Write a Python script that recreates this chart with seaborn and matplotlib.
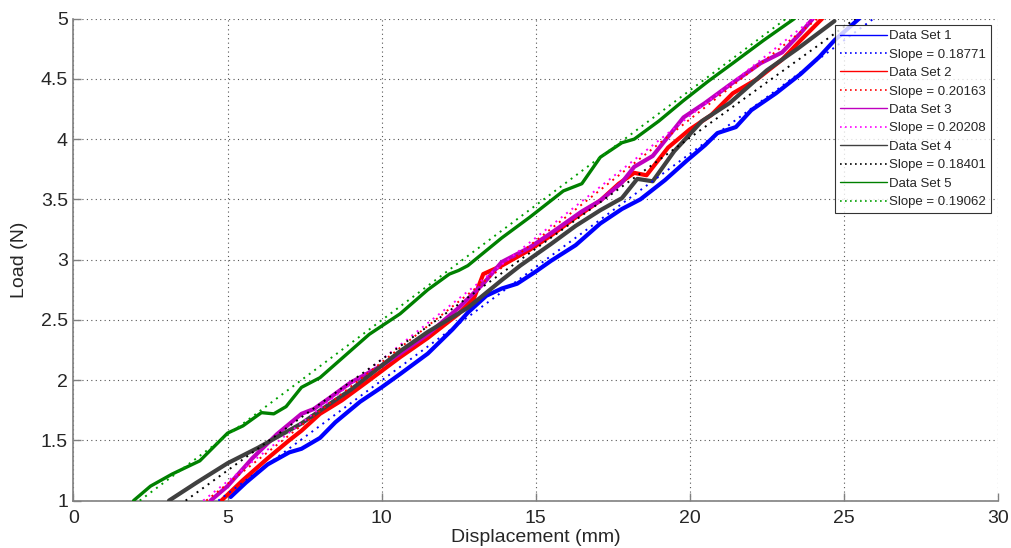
import numpy as np
import pandas as pd
import matplotlib
matplotlib.use('Agg')
import matplotlib.pyplot as plt
import seaborn as sns

# ── data ──────────────────────────────────────────────────────────────────
ds1_x = [5.1, 5.6, 6.3, 7.0, 7.4, 8.0, 8.5, 9.3, 10.0, 10.6, 11.5, 12.3, 12.8, 13.4, 13.9,
         14.4, 15.0, 15.5, 16.3, 17.1, 17.8, 18.4, 19.2, 19.9, 20.5, 20.9, 21.5, 22.0, 22.8,
         23.6, 24.2, 24.7, 25.5]
ds1_y = [1.03, 1.15, 1.30, 1.40, 1.43, 1.52, 1.65, 1.82, 1.94, 2.05, 2.22, 2.42, 2.56, 2.70, 2.76,
         2.80, 2.90, 2.99, 3.12, 3.30, 3.42, 3.50, 3.66, 3.82, 3.95, 4.05, 4.10, 4.24, 4.38,
         4.54, 4.68, 4.82, 5.0]

ds2_x = [4.8, 5.5, 6.3, 7.0, 7.4, 8.0, 8.7, 9.5, 10.6, 11.5, 12.5, 13.0, 13.3, 13.9, 14.8,
         15.5, 16.3, 17.1, 17.7, 18.2, 18.6, 19.3, 20.0, 20.7, 21.4, 22.2, 23.0, 23.6, 24.3]
ds2_y = [1.0, 1.17, 1.35, 1.50, 1.58, 1.72, 1.83, 1.98, 2.19, 2.35, 2.55, 2.68, 2.88, 2.95, 3.08,
         3.20, 3.35, 3.49, 3.63, 3.72, 3.70, 3.93, 4.08, 4.20, 4.38, 4.50, 4.66, 4.82, 5.0]

ds3_x = [4.45, 5.0, 5.8, 6.6, 7.4, 7.8, 8.3, 9.0, 10.0, 10.6, 11.5, 12.5, 13.3, 13.9, 14.8,
         15.5, 16.5, 17.1, 17.8, 18.2, 18.8, 19.8, 20.5, 21.3, 22.3, 23.0, 23.6, 24.0]
ds3_y = [1.0, 1.12, 1.35, 1.55, 1.72, 1.76, 1.85, 1.98, 2.12, 2.22, 2.38, 2.60, 2.80, 2.98, 3.10,
         3.22, 3.40, 3.49, 3.64, 3.77, 3.86, 4.18, 4.30, 4.45, 4.63, 4.72, 4.88, 5.0]

ds4_x = [3.1, 4.0, 5.0, 6.0, 7.4, 8.3, 9.0, 10.0, 10.6, 11.5, 12.8, 13.9, 14.5, 15.5, 16.3,
         17.1, 17.8, 18.3, 18.8, 19.5, 20.4, 21.3, 22.5, 23.5, 24.7]
ds4_y = [1.0, 1.15, 1.31, 1.44, 1.64, 1.80, 1.92, 2.12, 2.24, 2.40, 2.60, 2.83, 2.95, 3.13, 3.28,
         3.41, 3.51, 3.67, 3.65, 3.90, 4.15, 4.30, 4.57, 4.75, 4.98]

ds5_x = [1.95, 2.5, 3.2, 4.1, 5.0, 5.5, 6.1, 6.5, 6.9, 7.4, 8.0, 8.8, 9.6, 10.6, 11.5, 12.2,
         12.5, 12.8, 13.9, 14.8, 15.5, 15.9, 16.5, 17.1, 17.8, 18.2, 19.0, 19.8, 20.6, 21.4,
         22.4, 23.4]
ds5_y = [1.0, 1.12, 1.22, 1.33, 1.56, 1.62, 1.73, 1.72, 1.78, 1.94, 2.02, 2.20, 2.38, 2.55, 2.75,
         2.88, 2.91, 2.95, 3.18, 3.35, 3.49, 3.57, 3.63, 3.85, 3.97, 4.00, 4.15, 4.32, 4.48, 4.63,
         4.82, 5.0]

# linear fits: end points of each dotted line
fit_x = [[4.7, 25.97], [4.31, 24.15], [4.21, 24.0], [3.64, 25.38], [2.15, 23.13]]
fit_y = [[1.0, 5.0], [1.0, 5.0], [1.0, 5.0], [1.0, 5.0], [1.0, 5.0]]
slopes = [0.18771, 0.20163, 0.20208, 0.18401, 0.19062]

set_names = ["Data Set 1", "Data Set 2", "Data Set 3", "Data Set 4", "Data Set 5"]
data_colors = ["#0000ff", "#ff0000", "#bf00bf", "#404040", "#008000"]
fit_colors = ["#0000ff", "#ff0000", "#ff00ff", "#000000", "#00a000"]

xs = [ds1_x, ds2_x, ds3_x, ds4_x, ds5_x]
ys = [ds1_y, ds2_y, ds3_y, ds4_y, ds5_y]

sns.set_style("white")
plt.rcParams['font.family'] = ['Liberation Sans', 'DejaVu Sans']

fig = plt.figure(figsize=(10.11, 5.48), dpi=100)
ax = fig.add_axes([0.0727, 0.0865, 0.9142, 0.8795])

handles = []
for i in range(5):
    lw = 2.4 if i == 4 else 3.0
    sns.lineplot(x=xs[i], y=ys[i], ax=ax, color=data_colors[i], linewidth=lw,
                 estimator=None, sort=False, zorder=3)
    sns.lineplot(x=fit_x[i], y=fit_y[i], ax=ax, color=fit_colors[i], linewidth=1.4,
                 linestyle=(0, (1, 2.5)), estimator=None, sort=False, zorder=4)
    h1, = ax.plot([], [], color=data_colors[i], linewidth=1.0, label=set_names[i])
    h2, = ax.plot([], [], color=fit_colors[i], linewidth=1.2, linestyle=(0, (1, 2)),
                  label=f"Slope = {slopes[i]:.5f}")
    handles += [h1, h2]

ax.set_xlim(0, 30)
ax.set_ylim(1, 5)
ax.set_xticks([0, 5, 10, 15, 20, 25, 30])
ax.set_yticks([1, 1.5, 2, 2.5, 3, 3.5, 4, 4.5, 5])
ax.set_yticklabels(["1", "1.5", "2", "2.5", "3", "3.5", "4", "4.5", "5"])
ax.grid(True, color="#555555", linestyle=(0, (1, 3)), linewidth=0.8)
for side in ["top", "right"]:
    ax.spines[side].set_visible(False)
for side in ["left", "bottom"]:
    ax.spines[side].set_color("#808080")
    ax.spines[side].set_linewidth(1.2)
ax.tick_params(bottom=True, left=True, direction="in", length=6, width=1.0,
               color="#808080", labelsize=14)
ax.tick_params(axis="x", pad=7)
ax.tick_params(axis="y", pad=4)
ax.set_xlabel("Displacement (mm)", fontsize=14, labelpad=1)
ax.set_ylabel("Load (N)", fontsize=14, labelpad=9)

leg = ax.legend(handles=handles, loc="upper right", bbox_to_anchor=(0.9925, 0.986),
                fontsize=9.5, frameon=True, fancybox=False, handlelength=3.6,
                handletextpad=0.15, labelspacing=0.47, borderpad=0.35, borderaxespad=0)
leg.get_frame().set_edgecolor("black")
leg.get_frame().set_linewidth(0.8)

fig.savefig("out.png", dpi=100)
